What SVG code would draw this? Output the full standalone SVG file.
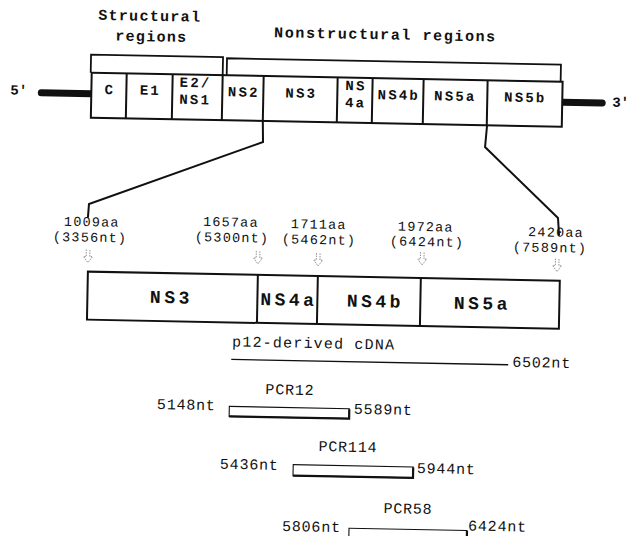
<svg xmlns="http://www.w3.org/2000/svg" xmlns:xlink="http://www.w3.org/1999/xlink" width="631" height="536" viewBox="0 0 631 536">
<style>
text{font-family:"Liberation Mono","DejaVu Sans Mono",monospace;fill:#111}
.hdr{font-size:15px;font-weight:bold;letter-spacing:1.3px;text-anchor:middle}
.cell{font-size:14px;letter-spacing:2.2px;text-anchor:middle;font-weight:bold}
.end{font-size:14px;font-weight:bold}
.pos{font-size:13.5px;letter-spacing:1.2px;text-anchor:middle}
.big{font-size:18px;font-weight:bold;letter-spacing:3.5px;text-anchor:middle}
.lab{font-size:15px;letter-spacing:0.8px}
.box{fill:#fff;stroke:#111;stroke-width:2}
.ln{fill:none;stroke:#111;stroke-width:2}
.br{fill:none;stroke:#111;stroke-width:1.8}
.thick{stroke:#111;stroke-width:7;stroke-linecap:round}
.arr{fill:none;stroke:#888;stroke-width:0.9;stroke-dasharray:1.5 1}
.pcr{fill:#fff;stroke:#111;stroke-width:1.1}
.pcrs{fill:none;stroke:#111;stroke-width:2.2}
</style>
<defs>
<path id="dnarrow" d="M-1.8,-7 V0 H-4.5 L0,6 L4.5,0 H1.8 V-7" class="arr"/>
</defs>
<rect width="631" height="536" fill="#fff"/>
<g transform="rotate(1.1 315 268)">
  <g id="headers">
    <text class="hdr" x="145" y="24">Structural</text>
    <text class="hdr" x="147" y="44.5">regions</text>
    <text class="hdr" x="381" y="38" style="letter-spacing:1.6px">Nonstructural regions</text>
  </g>
  <g id="brackets">
    <path class="br" d="M87,77 V59 H219 V77"/>
    <path class="br" d="M223,77 V60 H557 V77"/>
  </g>
  <g id="genome">
    <line class="thick" x1="38" y1="98" x2="88" y2="98"/>
    <line class="thick" x1="559" y1="97.5" x2="599" y2="97.5"/>
    <text class="end" x="7" y="100.5">5'</text>
    <text class="end" x="609" y="101">3'</text>
    <rect class="box" x="88" y="77" width="471" height="45"/>
    <path class="ln" d="M123,77 V122 M169,77 V122 M219,77 V122 M260,77 V122 M334,77 V122 M369,77 V122 M420,77 V122 M484,77 V122"/>
    <g id="C"><text class="cell" x="106.5" y="98">C</text></g>
    <g id="E1"><text class="cell" x="147" y="98">E1</text></g>
    <g id="E2NS1"><text class="cell" x="192" y="89.5">E2/</text><text class="cell" x="192" y="106.5">NS1</text></g>
    <g id="NS2"><text class="cell" x="240.5" y="98">NS2</text></g>
    <g id="NS3"><text class="cell" x="298" y="98">NS3</text></g>
    <g id="NS4a"><text class="cell" x="352.5" y="89.5">NS</text><text class="cell" x="352.5" y="106.5">4a</text></g>
    <g id="NS4b"><text class="cell" x="395.5" y="98">NS4b</text></g>
    <g id="NS5a"><text class="cell" x="452" y="98">NS5a</text></g>
    <g id="NS5b"><text class="cell" x="522" y="98">NS5b</text></g>
  </g>
  <g id="connectors">
    <polyline class="ln" points="260,122 260.6,143 87.8,208.3 87,222"/>
    <polyline class="ln" points="484.3,122 482.7,143.8 557,213.4 558.4,231"/>
  </g>
  <g id="positions">
    <text class="pos" x="91" y="230.5">1009aa</text><text class="pos" x="89.5" y="246">(3356nt)</text>
    <text class="pos" x="230" y="228">1657aa</text><text class="pos" x="231.5" y="243.5">(5300nt)</text>
    <text class="pos" x="318" y="228.5">1711aa</text><text class="pos" x="318.5" y="244">(5462nt)</text>
    <text class="pos" x="425" y="229">1972aa</text><text class="pos" x="426.5" y="244">(6424nt)</text>
    <text class="pos" x="555.3" y="232">2420aa</text><text class="pos" x="549.6" y="247.5">(7589nt)</text>
    <use xlink:href="#dnarrow" x="87.8" y="261"/>
    <use xlink:href="#dnarrow" x="257.8" y="259"/>
    <use xlink:href="#dnarrow" x="318" y="260"/>
    <use xlink:href="#dnarrow" x="422" y="257"/>
    <use xlink:href="#dnarrow" x="557" y="261"/>
  </g>
  <g id="expanded">
    <rect class="box" x="88" y="276" width="472" height="48"/>
    <path class="ln" d="M258,276 V324 M318,276 V324 M421,276 V324"/>
    <g id="xNS3"><text class="big" x="172" y="306">NS3</text></g>
    <g id="xNS4a"><text class="big" x="289.5" y="306">NS4a</text></g>
    <g id="xNS4b"><text class="big" x="376" y="306">NS4b</text></g>
    <g id="xNS5a"><text class="big" x="483" y="306">NS5a</text></g>
  </g>
  <g id="p12">
    <text class="lab" x="233.5" y="348" style="letter-spacing:1.2px">p12-derived cDNA</text>
    <line x1="233" y1="361" x2="510" y2="361" stroke="#111" stroke-width="1.4"/>
    <text class="lab" x="514" y="363">6502nt</text>
  </g>
  <g id="PCR12">
    <text class="lab" x="292.3" y="395" text-anchor="middle">PCR12</text>
    <text class="lab" x="159.6" y="412">5148nt</text>
    <rect class="pcr" x="232" y="408" width="120" height="10"/>
    <path class="pcrs" d="M232,418 H352 V408.5"/>
    <text class="lab" x="356.6" y="413">5589nt</text>
  </g>
  <g id="PCR114">
    <text class="lab" x="351.4" y="451" text-anchor="middle">PCR114</text>
    <text class="lab" x="223.7" y="470.5">5436nt</text>
    <rect class="pcr" x="297" y="465" width="120" height="11"/>
    <path class="pcrs" d="M297,476 H417 V465.5"/>
    <text class="lab" x="420.7" y="471">5944nt</text>
  </g>
  <g id="PCR58">
    <text class="lab" x="412.6" y="511.7" text-anchor="middle">PCR58</text>
    <text class="lab" x="287" y="531.5">5806nt</text>
    <rect class="pcr" x="354" y="527.5" width="118" height="11"/>
    <path class="pcrs" d="M354,538.5 H472 V528"/>
    <text class="lab" x="473" y="527.5">6424nt</text>
  </g>
</g>
</svg>
